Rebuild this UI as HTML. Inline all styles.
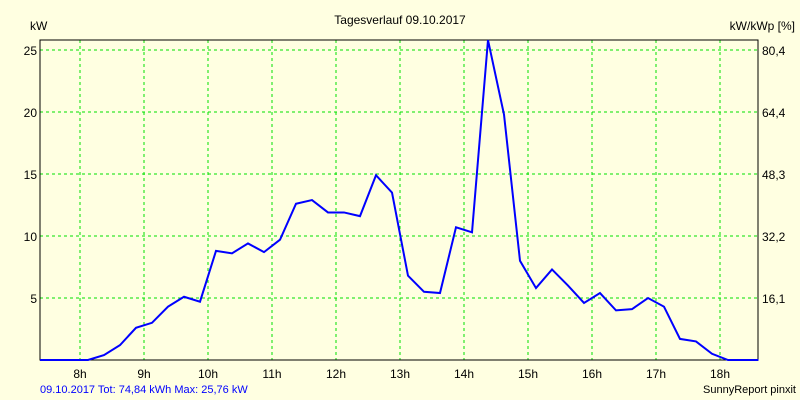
<!DOCTYPE html>
<html><head><meta charset="utf-8"><style>
body{margin:0;background:#ffffe1;}
svg{display:block;font-family:"Liberation Sans",sans-serif;}
</style></head><body>
<svg id="c" width="800" height="400">
<rect width="800" height="400" fill="#ffffe1"/>
<text x="400" y="24" text-anchor="middle" font-size="12">Tagesverlauf 09.10.2017</text>
<text x="30" y="30" font-size="12">kW</text>
<text x="795" y="30" text-anchor="end" font-size="12">kW/kWp [%]</text>
<g id="grid"></g><g id="axes"></g>
<text x="40" y="393" font-size="11" fill="#0000ff">09.10.2017 Tot: 74,84 kWh Max: 25,76 kW</text>
<text x="796" y="393" text-anchor="end" font-size="11">SunnyReport pinxit</text>
</svg>
<script>
const hourTicks=[8,9,10,11,12,13,14,15,16,17,18];
const yTicks=[5,10,15,20,25];
const y2Labels=["16,1","32,2","48,3","64,4","80,4"];
const times=[7.375,8.125,8.375,8.625,8.875,9.125,9.375,9.625,9.875,10.125,10.375,10.625,10.875,11.125,11.375,11.625,11.875,12.125,12.375,12.625,12.875,13.125,13.375,13.625,13.875,14.125,14.375,14.625,14.875,15.125,15.375,15.625,15.875,16.125,16.375,16.625,16.875,17.125,17.375,17.625,17.875,18.125,18.6];
const power=[0,0,0.4,1.2,2.6,3.0,4.3,5.1,4.7,8.8,8.6,9.4,8.7,9.7,12.6,12.9,11.9,11.9,11.6,14.9,13.5,6.8,5.5,5.4,10.7,10.3,25.8,19.8,8.0,5.8,7.3,6.0,4.6,5.4,4.0,4.1,5.0,4.3,1.7,1.5,0.5,0,0];
const L=40,R=758,T=40,B=360;
const xs=h=>L+(h-7.375)*64;
const ys=v=>B-v*12.4;
const ns="http://www.w3.org/2000/svg";
const svg=document.getElementById('c'),g=document.getElementById('grid'),ax=document.getElementById('axes');
function mk(tag,at,parent){const e=document.createElementNS(ns,tag);for(const k in at)e.setAttribute(k,at[k]);parent.appendChild(e);return e;}
hourTicks.forEach(h=>{
 const l=mk('line',{x1:xs(h),x2:xs(h),y1:T,y2:B,stroke:'#00e000','stroke-dasharray':'3,3'},g);
 
 
 const t=mk('text',{x:xs(h),y:378,'text-anchor':'middle','font-size':12},ax);t.textContent=h+'h';
 
 
});
yTicks.forEach((v,i)=>{
 const l=mk('line',{x1:L,x2:R,y1:ys(v),y2:ys(v),stroke:'#00e000','stroke-dasharray':'3,3'},g);
 
 
 const t=mk('text',{x:37,y:ys(v)+5,'text-anchor':'end','font-size':12},ax);t.textContent=v;
 
 
 const t2=mk('text',{x:762,y:ys(v)+5,'font-size':12},ax);t2.textContent=y2Labels[i];
 
 
});
const fr=mk('rect',{x:L,y:T,width:R-L,height:B-T,fill:'none',stroke:'#000'},ax);


const p=mk('polyline',{points:times.map((t,i)=>xs(t)+','+ys(power[i])).join(' '),fill:'none',stroke:'#0000ff','stroke-width':2},svg);


</script>
</body></html>
